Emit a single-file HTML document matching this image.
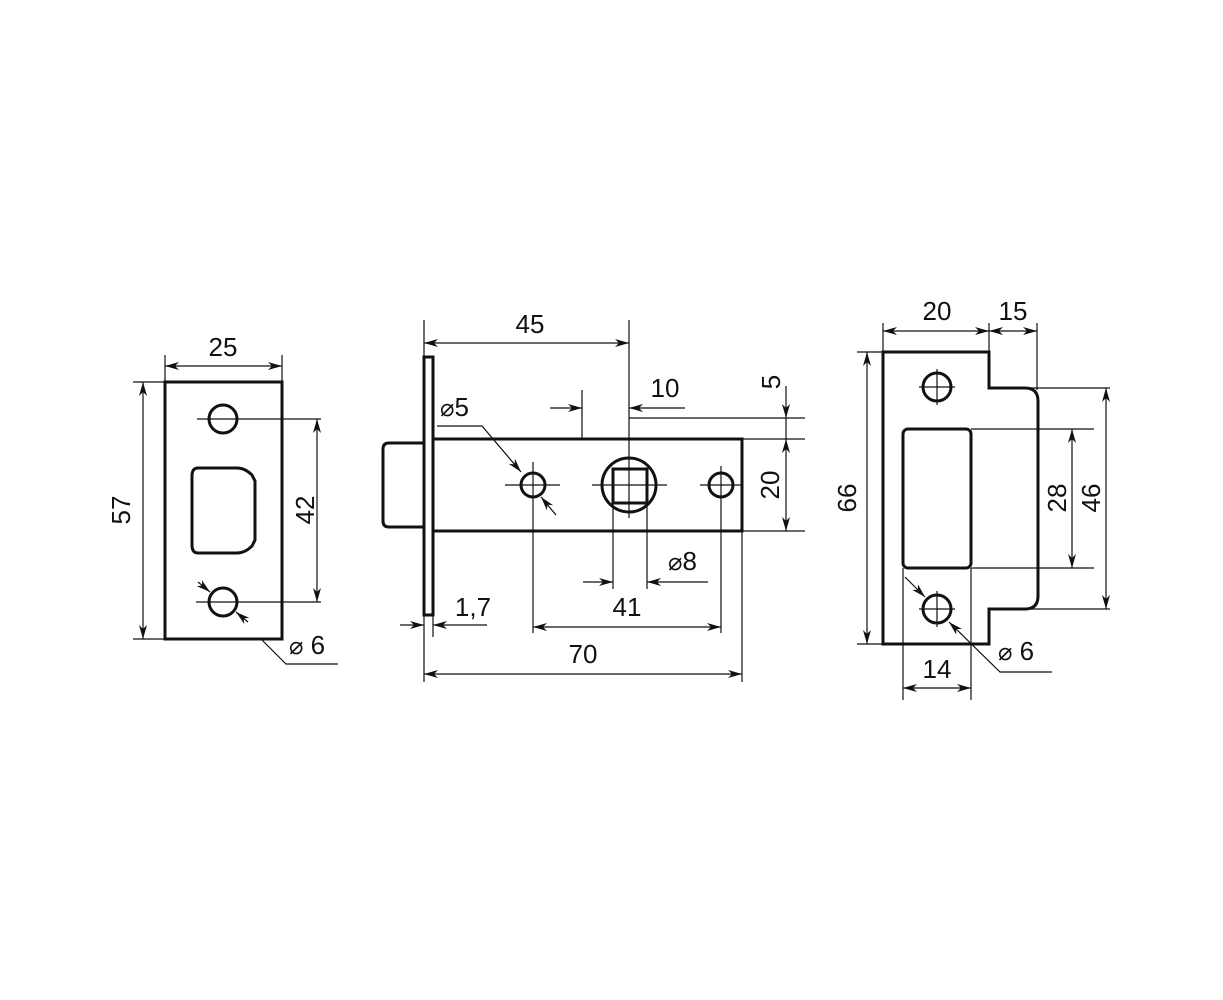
<!DOCTYPE html>
<html><head><meta charset="utf-8"><style>
html,body{margin:0;padding:0;background:#fff;}
svg{display:block;}
text{font-family:"Liberation Sans",sans-serif;font-size:26px;fill:#111;}
.d{font-family:"DejaVu Sans",sans-serif;font-size:24px;}
</style></head><body>
<svg width="1223" height="1000" viewBox="0 0 1223 1000" xmlns="http://www.w3.org/2000/svg">
<defs>
<marker id="a" viewBox="0 0 14 8" refX="14" refY="4" markerWidth="14" markerHeight="8" markerUnits="userSpaceOnUse" orient="auto-start-reverse">
<path d="M0,0 L14,4 L0,8 L4,4 Z" fill="#111"/></marker>
</defs>
<g fill="none" stroke="#111" stroke-width="1.2">
<line x1="165" y1="355" x2="165" y2="382"/><line x1="282" y1="355" x2="282" y2="382"/>
<line x1="165" y1="366" x2="282" y2="366" marker-start="url(#a)" marker-end="url(#a)"/>
<line x1="133" y1="382" x2="165" y2="382"/><line x1="133" y1="639" x2="165" y2="639"/>
<line x1="143" y1="382" x2="143" y2="639" marker-start="url(#a)" marker-end="url(#a)"/>
<line x1="197" y1="419" x2="321" y2="419"/><line x1="196" y1="602" x2="321" y2="602"/>
<line x1="317" y1="419" x2="317" y2="602" marker-start="url(#a)" marker-end="url(#a)"/>
<line x1="198" y1="582" x2="210" y2="592" marker-end="url(#a)"/>
<line x1="248" y1="622" x2="236" y2="612" marker-end="url(#a)"/>
<polyline points="262,640 286,664 338,664"/>
<line x1="424" y1="320" x2="424" y2="357"/>
<line x1="629" y1="320" x2="629" y2="518"/>
<line x1="424" y1="343" x2="629" y2="343" marker-start="url(#a)" marker-end="url(#a)"/>
<line x1="582" y1="390" x2="582" y2="439"/>
<line x1="550" y1="408" x2="582" y2="408" marker-end="url(#a)"/>
<line x1="685" y1="408" x2="629" y2="408" marker-end="url(#a)"/>
<line x1="629" y1="418" x2="805" y2="418"/>
<line x1="742" y1="439" x2="805" y2="439"/>
<line x1="742" y1="531" x2="805" y2="531"/>
<line x1="786" y1="386" x2="786" y2="418" marker-end="url(#a)"/>
<line x1="786" y1="418" x2="786" y2="439"/>
<line x1="786" y1="439" x2="786" y2="531" marker-start="url(#a)" marker-end="url(#a)"/>
<polyline points="437,426 482,426 521,472" marker-end="url(#a)"/>
<line x1="556" y1="515" x2="541" y2="497" marker-end="url(#a)"/>
<line x1="505" y1="485" x2="560" y2="485"/>
<line x1="533" y1="462" x2="533" y2="633"/>
<line x1="592" y1="485" x2="667" y2="485"/>
<line x1="700" y1="485" x2="742" y2="485"/>
<line x1="721" y1="466" x2="721" y2="633"/>
<line x1="613" y1="503" x2="613" y2="589"/><line x1="647" y1="503" x2="647" y2="589"/>
<line x1="583" y1="582" x2="613" y2="582" marker-end="url(#a)"/>
<line x1="708" y1="582" x2="647" y2="582" marker-end="url(#a)"/>
<line x1="533" y1="627" x2="721" y2="627" marker-start="url(#a)" marker-end="url(#a)"/>
<line x1="424" y1="615" x2="424" y2="682"/><line x1="433" y1="615" x2="433" y2="637"/>
<line x1="400" y1="625" x2="424" y2="625" marker-end="url(#a)"/>
<line x1="487" y1="625" x2="433" y2="625" marker-end="url(#a)"/>
<line x1="742" y1="531" x2="742" y2="682"/>
<line x1="424" y1="674" x2="742" y2="674" marker-start="url(#a)" marker-end="url(#a)"/>
<line x1="883" y1="323" x2="883" y2="352"/><line x1="989" y1="323" x2="989" y2="352"/>
<line x1="1037" y1="323" x2="1037" y2="390"/>
<line x1="883" y1="331" x2="989" y2="331" marker-start="url(#a)" marker-end="url(#a)"/>
<line x1="989" y1="331" x2="1037" y2="331" marker-start="url(#a)" marker-end="url(#a)"/>
<line x1="857" y1="352" x2="883" y2="352"/><line x1="857" y1="644" x2="883" y2="644"/>
<line x1="867" y1="352" x2="867" y2="644" marker-start="url(#a)" marker-end="url(#a)"/>
<line x1="971" y1="429" x2="1094" y2="429"/><line x1="971" y1="568" x2="1094" y2="568"/>
<line x1="1072" y1="429" x2="1072" y2="568" marker-start="url(#a)" marker-end="url(#a)"/>
<line x1="1030" y1="388" x2="1110" y2="388"/><line x1="1030" y1="609" x2="1110" y2="609"/>
<line x1="1106" y1="388" x2="1106" y2="609" marker-start="url(#a)" marker-end="url(#a)"/>
<line x1="903" y1="568" x2="903" y2="700"/><line x1="971" y1="568" x2="971" y2="700"/>
<line x1="903" y1="688" x2="971" y2="688" marker-start="url(#a)" marker-end="url(#a)"/>
<line x1="905" y1="577" x2="925" y2="597" marker-end="url(#a)"/>
<polyline points="1052,672 1000,672 949,622" marker-end="url(#a)"/>
<line x1="919" y1="387" x2="955" y2="387"/><line x1="937" y1="369" x2="937" y2="405"/>
<line x1="919" y1="609" x2="955" y2="609"/><line x1="937" y1="591" x2="937" y2="627"/>
</g>
<g fill="none" stroke="#111" stroke-width="3">
<rect x="165" y="382" width="117" height="257"/>
<circle cx="223" cy="419" r="14"/>
<circle cx="223" cy="602" r="14"/>
<path d="M198,468 L237,468 Q245,468 252,475 L255,481 L255,540 L252,546 Q245,553 237,553 L198,553 Q192,553 192,545 L192,476 Q192,468 198,468 Z"/>
<rect x="424" y="357" width="9" height="258"/>
<rect x="433" y="439" width="309" height="92"/>
<path d="M424,443 L389,443 Q383,443 383,449 L383,521 Q383,527 389,527 L424,527"/>
<circle cx="533" cy="485" r="12"/>
<circle cx="721" cy="485" r="12"/>
<circle cx="629" cy="485" r="27"/>
<rect x="613" y="469" width="34" height="34"/>
<path d="M883,352 L989,352 L989,388 L1025,388 Q1038,388 1038,401 L1038,596 Q1038,609 1025,609 L989,609 L989,644 L883,644 Z"/>
<circle cx="937" cy="387" r="14"/>
<circle cx="937" cy="609" r="14"/>
<rect x="903" y="429" width="68" height="139" rx="5"/>
</g>
<g>
<text x="223" y="356" text-anchor="middle">25</text>
<text transform="translate(130,510) rotate(-90)" text-anchor="middle">57</text>
<text transform="translate(314,510) rotate(-90)" text-anchor="middle">42</text>
<text x="289" y="654"><tspan class="d">⌀</tspan> 6</text>
<text x="530" y="333" text-anchor="middle">45</text>
<text x="665" y="397" text-anchor="middle">10</text>
<text transform="translate(780,382) rotate(-90)" text-anchor="middle">5</text>
<text transform="translate(779,485) rotate(-90)" text-anchor="middle">20</text>
<text x="440" y="416"><tspan class="d">⌀</tspan>5</text>
<text x="668" y="570"><tspan class="d">⌀</tspan>8</text>
<text x="627" y="616" text-anchor="middle">41</text>
<text x="473" y="616" text-anchor="middle">1,7</text>
<text x="583" y="663" text-anchor="middle">70</text>
<text x="937" y="320" text-anchor="middle">20</text>
<text x="1013" y="320" text-anchor="middle">15</text>
<text transform="translate(856,498) rotate(-90)" text-anchor="middle">66</text>
<text transform="translate(1066,498) rotate(-90)" text-anchor="middle">28</text>
<text transform="translate(1100,498) rotate(-90)" text-anchor="middle">46</text>
<text x="937" y="678" text-anchor="middle">14</text>
<text x="998" y="660"><tspan class="d">⌀</tspan> 6</text>
</g>
</svg>
</body></html>
